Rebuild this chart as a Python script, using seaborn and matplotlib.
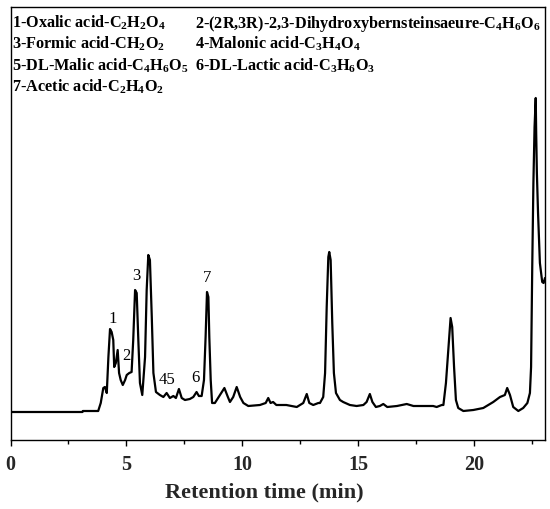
import numpy as np
import pandas as pd
import matplotlib
matplotlib.use("Agg")
import matplotlib.pyplot as plt
import seaborn as sns

# Retention time (min) and detector signal (arbitrary units)
time = [0.0, 3.10, 3.12, 3.78, 3.89, 4.00, 4.07, 4.15, 4.22, 4.29, 4.36, 4.43, 4.47, 4.54,
        4.62, 4.68, 4.75, 4.84, 4.94, 5.01, 5.12, 5.22, 5.29, 5.37, 5.44, 5.51, 5.58, 5.68,
        5.80, 5.87, 5.94, 6.01, 6.09, 6.16, 6.27, 6.44, 6.59, 6.73, 6.87, 7.02, 7.13, 7.26,
        7.38, 7.52, 7.73, 7.88, 8.02, 8.12, 8.24, 8.34, 8.41, 8.47, 8.53, 8.57, 8.63, 8.69,
        8.81, 9.03, 9.22, 9.37, 9.46, 9.60, 9.75, 9.90, 10.04, 10.25, 10.75, 11.00, 11.11,
        11.21, 11.32, 11.46, 11.89, 12.34, 12.48, 12.62, 12.77, 12.88, 13.05, 13.27, 13.34,
        13.48, 13.56, 13.63, 13.70, 13.74, 13.80, 13.87, 13.94, 14.03, 14.20, 14.34, 14.63,
        14.92, 15.21, 15.35, 15.49, 15.60, 15.75, 15.92, 16.07, 16.24, 16.66, 17.08, 17.37,
        18.22, 18.37, 18.59, 18.66, 18.77, 18.87, 18.97, 19.04, 19.12, 19.20, 19.30, 19.52,
        19.95, 20.38, 20.81, 21.10, 21.31, 21.41, 21.53, 21.67, 21.89, 22.10, 22.28, 22.39,
        22.44, 22.49, 22.54, 22.59, 22.64, 22.66, 22.69, 22.74, 22.82, 22.92, 22.98, 23.04]
signal = [-2, -2, -1, -1, 7, 22, 23, 17, 53, 81, 78, 70, 43, 47,
          60, 37, 30, 25, 30, 35, 37, 38, 70, 120, 117, 70, 27, 15,
          53, 120, 155, 150, 93, 37, 18, 15, 13, 17, 12, 14, 12, 21,
          12, 10, 11, 13, 18, 14, 14, 30, 73, 118, 113, 73, 30, 7,
          7, 15, 22, 13, 8, 13, 23, 13, 7, 4, 5, 7, 12,
          7, 8, 5, 5, 3, 5, 7, 16, 7, 5, 7, 7,
          13, 37, 103, 153, 158, 150, 87, 37, 17, 10, 8, 5,
          4, 5, 8, 16, 8, 3, 4, 6, 3, 4, 6, 4,
          4, 3, 5, 5, 27, 60, 92, 83, 43, 10, 2, -1,
          0, 2, 8, 13, 15, 22, 15, 3, -1, 2, 7, 17,
          43, 143, 227, 283, 312, 277, 237, 197, 147, 128, 127, 132]

# Peak annotations
peak_labels = ["1", "2", "3", "45", "6", "7"]
peak_label_t = [4.42, 4.98, 5.41, 6.75, 7.96, 8.47]
peak_label_s = [91, 54, 134, 30, 32, 132]

legend_lines = [
    [r"1-Oxalic acid-C$_2$H$_2$O$_4$", r"2-(2R,3R)-2,3-Dihydroxybernsteinsaeure-C$_4$H$_6$O$_6$"],
    [r"3-Formic acid-CH$_2$O$_2$", r"4-Malonic acid-C$_3$H$_4$O$_4$"],
    [r"5-DL-Malic acid-C$_4$H$_6$O$_5$", r"6-DL-Lactic acid-C$_3$H$_6$O$_3$"],
    [r"7-Acetic acid-C$_2$H$_4$O$_2$", ""],
]

xticks = [0, 5, 10, 15, 20]
xlabel = "Retention time (min)"

sns.set_theme(style="ticks")
plt.rcParams["font.family"] = ["Liberation Serif", "DejaVu Serif"]
plt.rcParams["mathtext.fontset"] = "custom"
plt.rcParams["mathtext.rm"] = "Liberation Serif:bold"
plt.rcParams["mathtext.it"] = "Liberation Serif:italic:bold"
plt.rcParams["mathtext.bf"] = "Liberation Serif:bold"
plt.rcParams["mathtext.default"] = "rm"

fig = plt.figure(figsize=(5.5, 5.09), dpi=100)
ax = fig.add_axes([10.5 / 550, 1 - 440 / 509, 534.5 / 550, 433 / 509])

df = pd.DataFrame({"time": time, "signal": signal})
sns.lineplot(data=df, x="time", y="signal", ax=ax, color="black", linewidth=1.6, sort=False)

ax.set_xlim(0, 23.04)
ax.set_ylim(-30, 403)
ax.set_yticks([])
ax.set_xticks(xticks)
ax.set_xticks([2.5, 7.5, 12.5, 17.5, 22.5], minor=True)
ax.tick_params(axis="x", which="major", direction="out", length=4, width=1, color="black",
               labelsize=14.5, pad=7)
ax.tick_params(axis="x", which="minor", direction="out", length=3, width=1, color="black")
for lbl in ax.get_xticklabels():
    lbl.set_fontweight("bold")
ax.set_xlabel(xlabel, fontsize=16, fontweight="bold", labelpad=5, x=0.474)
ax.set_ylabel("")
for sp in ax.spines.values():
    sp.set_visible(True)
    sp.set_color("black")
    sp.set_linewidth(1.0)

for lab, t, s in zip(peak_labels, peak_label_t, peak_label_s):
    ax.text(t, s, lab, fontsize=12, ha="center", va="center", color="black")

row_baselines = [28, 49, 71, 92]
col_x = [12, 195]
for row, yb in zip(legend_lines, row_baselines):
    for txt, xc in zip(row, col_x):
        if txt:
            fig.text(xc / 550, 1 - yb / 509, txt, fontsize=11.7, fontweight="bold",
                     ha="left", va="baseline", color="black")

fig.savefig("out.png", dpi=100)
